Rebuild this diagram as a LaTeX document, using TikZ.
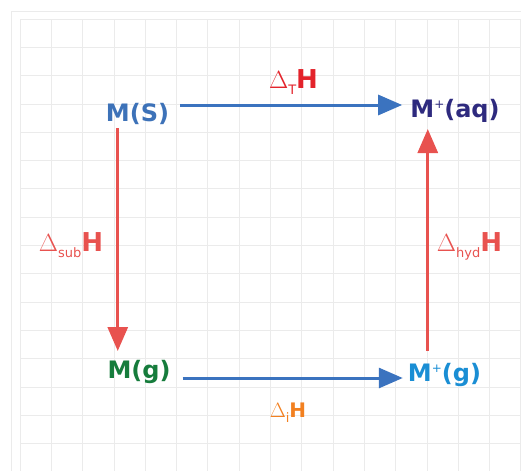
\documentclass[tikz,border=0pt]{standalone}
\usepackage{fontspec}
\setmainfont{DejaVu Sans}
\usetikzlibrary{arrows.meta}

\definecolor{grisgrille}{HTML}{EBEBEB}
\definecolor{bleuS}{HTML}{3D72B8}
\definecolor{bleuF}{HTML}{3B73BF}
\definecolor{indigoaq}{HTML}{2E2A7E}
\definecolor{vertg}{HTML}{167C3C}
\definecolor{cyang}{HTML}{1A8ED4}
\definecolor{rougeF}{HTML}{E8524F}
\definecolor{rougeT}{HTML}{E3232B}
\definecolor{orangei}{HTML}{F28020}

\newcommand{\chargeplus}{\raisebox{9pt}{\fontsize{12}{12}\selectfont\mdseries +}}
\newcommand{\enth}[2]{$\Delta$\raisebox{-#2}{\fontsize{13}{13}\selectfont\mdseries #1}\textbf{H}}

\begin{document}
\begin{tikzpicture}[x=1pt,y=-1pt,
    espece/.style={font=\fontsize{24}{28}\selectfont\bfseries, inner sep=0pt, anchor=base},
    enthalpie/.style={font=\fontsize{26}{30}\selectfont, inner sep=0pt, anchor=base},
    fleche/.style={line width=3pt, -{Triangle[length=24pt,width=20pt]}},
    grille/.style={draw=grisgrille, line width=0.8pt}]
    \useasboundingbox (0,0) rectangle (521,471);
    
    % Quadrillage
    \foreach \i in {0,...,16} \draw[grille] ({20+31.3*\i},19) -- ({20+31.3*\i},471);
    \foreach \j in {0,...,15} \draw[grille] (20,{19+28.3*\j}) -- (521,{19+28.3*\j});
    \draw[grille] (11,471) -- (11,11) -- (521,11);
    
    % Espèces
    \node[espece, text=bleuS] (ms) at (137.5,121) {M(S)};
    \node[espece, text=indigoaq] (maq) at (455,117) {M\chargeplus(aq)};
    \node[espece, text=vertg] (mg) at (139,378) {M(g)};
    \node[espece, text=cyang] (mgp) at (444.5,381) {M\chargeplus(g)};
    
    % Flèches horizontales
    \draw[fleche, bleuF] ([shift={(11,-16)}]ms.base east) -- ([shift={(-8,-12)}]maq.base west);
    \draw[fleche, bleuF] ([shift={(12,0)}]mg.base east) -- ([shift={(-5,-3)}]mgp.base west);
    
    % Flèches verticales
    \coordinate (sub0) at ([shift={(12,7)}]ms.base west);
    \coordinate (sub1) at ([yshift=27pt]mg.base);
    \draw[fleche, rougeF] (sub0) -- (sub0 |- sub1);
    \coordinate (hyd0) at ([shift={(20,-30)}]mgp.base west);
    \coordinate (hyd1) at ([yshift=-12pt]maq.base);
    \draw[fleche, rougeF] (hyd0) -- (hyd0 |- hyd1);
    
    % Enthalpies
    \node[enthalpie, text=rougeT] (dT) at (293.5,88) {\enth{T}{6pt}};
    \node[enthalpie, text=rougeF] (dsub) at (71,251) {\enth{sub}{6pt}};
    \node[enthalpie, text=rougeF] (dhyd) at (469.5,251) {\enth{hyd}{6pt}};
    \node[enthalpie, text=orangei, font=\fontsize{20}{24}\selectfont] (di) at (288,417) {\enth{i}{5pt}};
\end{tikzpicture}
\end{document}
